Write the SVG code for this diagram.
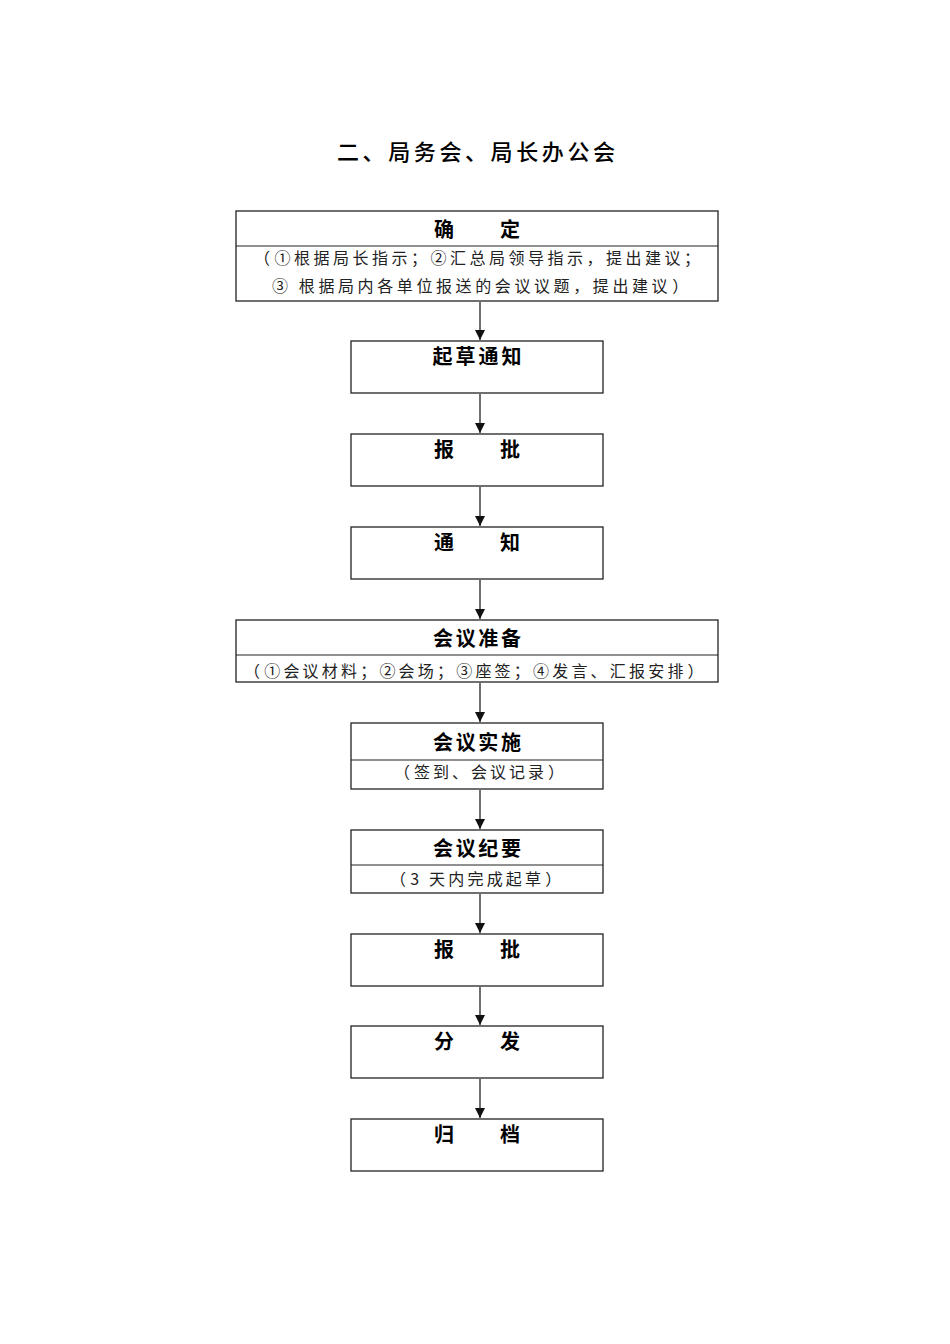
<svg xmlns="http://www.w3.org/2000/svg" width="950" height="1344" viewBox="0 0 950 1344">
<style>
.box{fill:#fff;stroke:#222;stroke-width:1.3}
.div{stroke:#222;stroke-width:1.2}
.t{font-family:"Noto Sans CJK SC","Liberation Sans",sans-serif;font-size:20px;font-weight:bold;fill:#000;text-anchor:middle}
.s{font-family:"Noto Sans CJK SC","Liberation Sans",sans-serif;font-size:16px;fill:#222;text-anchor:start}
.h{font-family:"Noto Sans CJK SC","Liberation Sans",sans-serif;font-size:22px;font-weight:500;fill:#000;text-anchor:middle}
.c{stroke:#222;stroke-width:1.3;fill:none}
</style>
<defs><marker id="a" markerWidth="10" markerHeight="10" refX="10" refY="5" orient="auto" markerUnits="userSpaceOnUse" viewBox="0 0 10 10"><path d="M0,0 L10,5 L0,10 Z" fill="#111"/></marker></defs>
<text class="h" x="476" y="160" textLength="278" lengthAdjust="spacing">二、局务会、局长办公会</text>
<g id="n1"><rect class="box" x="236" y="211" width="482" height="90"/><line class="div" x1="236" y1="246" x2="718" y2="246"/><text class="t" x="444 510" y="237">确定</text><text class="s" x="254" y="264" letter-spacing="3.5">（<tspan dx="1">①根据局长指示；②汇总局领导指示，提出建议；</tspan></text><text class="s" x="272" y="292" letter-spacing="3.6">③ 根据局内各单位报送的会议议题，提出建议<tspan dx="1">）</tspan></text></g>
<g id="n2"><rect class="box" x="351" y="341" width="252" height="52"/><text class="t" x="477" y="364" textLength="89" lengthAdjust="spacing">起草通知</text></g>
<g id="n3"><rect class="box" x="351" y="434" width="252" height="52"/><text class="t" x="444 510" y="457">报批</text></g>
<g id="n4"><rect class="box" x="351" y="527" width="252" height="52"/><text class="t" x="444 510" y="550">通知</text></g>
<g id="n5"><rect class="box" x="236" y="620" width="482" height="62"/><line class="div" x1="236" y1="655" x2="718" y2="655"/><text class="t" x="477" y="646" textLength="88" lengthAdjust="spacing">会议准备</text><text class="s" x="244" y="677" letter-spacing="3.2">（<tspan dx="1">①会议材料；②会场；③座签；④发言、汇报安排</tspan><tspan dx="1">）</tspan></text></g>
<g id="n6"><rect class="box" x="351" y="723" width="252" height="66"/><line class="div" x1="351" y1="760" x2="603" y2="760"/><text class="t" x="477" y="750" textLength="88" lengthAdjust="spacing">会议实施</text><text class="s" x="394" y="778" letter-spacing="3">（<tspan dx="1">签到、会议记录</tspan><tspan dx="1">）</tspan></text></g>
<g id="n7"><rect class="box" x="351" y="830" width="252" height="63"/><line class="div" x1="351" y1="865" x2="603" y2="865"/><text class="t" x="477" y="856" textLength="88" lengthAdjust="spacing">会议纪要</text><text class="s" x="390" y="885" letter-spacing="3.2">（<tspan dx="1">3&#160;天内完成起草</tspan><tspan dx="1">）</tspan></text></g>
<g id="n8"><rect class="box" x="351" y="934" width="252" height="52"/><text class="t" x="444 510" y="957">报批</text></g>
<g id="n9"><rect class="box" x="351" y="1026" width="252" height="52"/><text class="t" x="444 510" y="1049">分发</text></g>
<g id="n10"><rect class="box" x="351" y="1119" width="252" height="52"/><text class="t" x="444 510" y="1142">归档</text></g>
<g id="connectors">
<line class="c" x1="480" y1="302" x2="480" y2="340" marker-end="url(#a)"/>
<line class="c" x1="480" y1="394" x2="480" y2="433" marker-end="url(#a)"/>
<line class="c" x1="480" y1="487" x2="480" y2="526" marker-end="url(#a)"/>
<line class="c" x1="480" y1="580" x2="480" y2="619" marker-end="url(#a)"/>
<line class="c" x1="480" y1="683" x2="480" y2="722" marker-end="url(#a)"/>
<line class="c" x1="480" y1="790" x2="480" y2="829" marker-end="url(#a)"/>
<line class="c" x1="480" y1="894" x2="480" y2="933" marker-end="url(#a)"/>
<line class="c" x1="480" y1="987" x2="480" y2="1025" marker-end="url(#a)"/>
<line class="c" x1="480" y1="1079" x2="480" y2="1118" marker-end="url(#a)"/>
</g>
</svg>
